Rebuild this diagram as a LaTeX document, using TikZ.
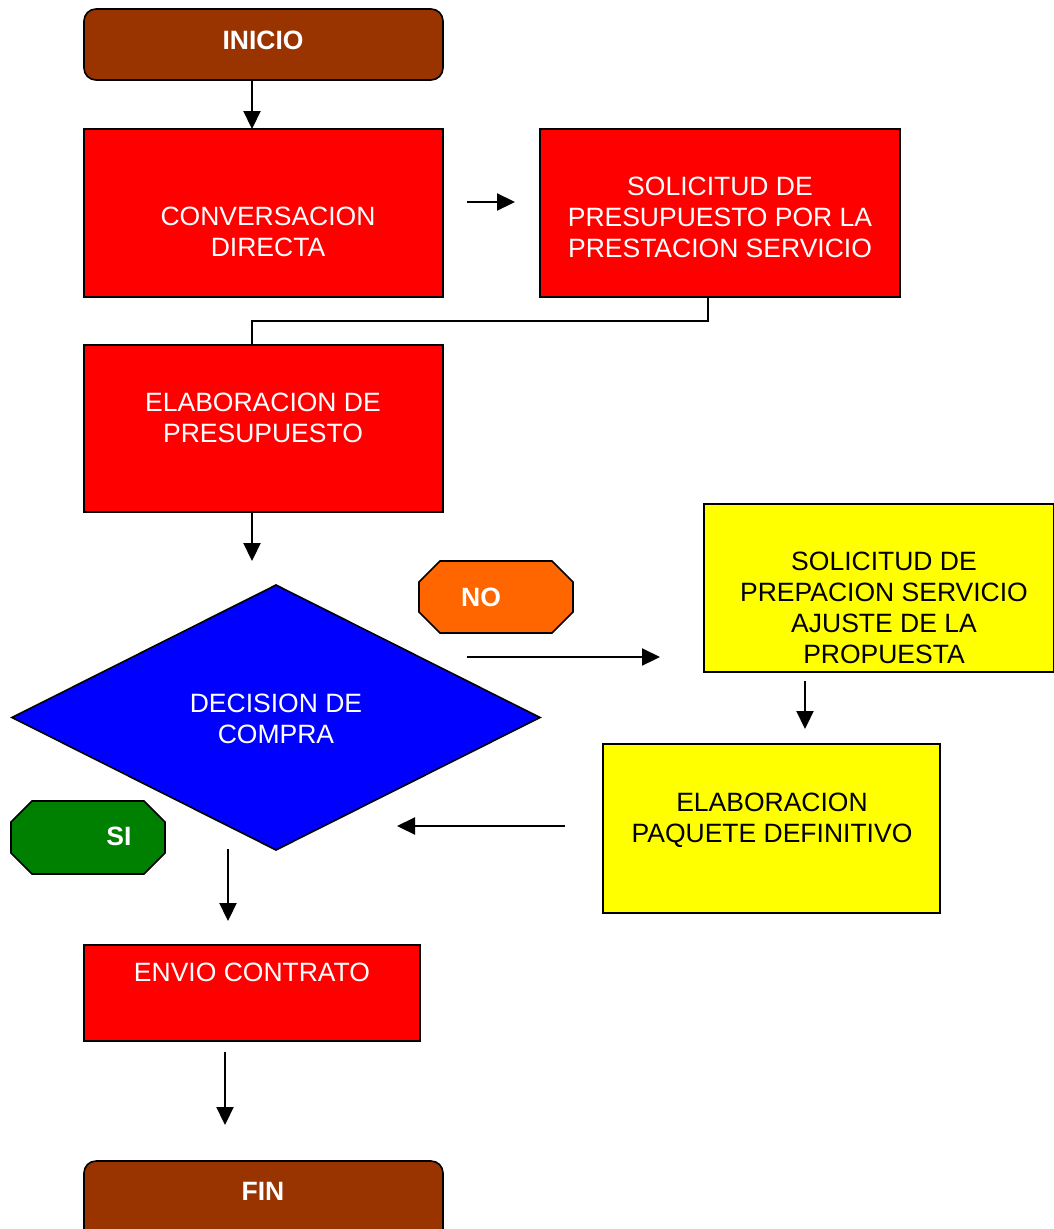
\documentclass[tikz,border=0pt]{standalone}
\usepackage{fontspec}
\setmainfont{Liberation Sans}
\usetikzlibrary{shapes.geometric,arrows.meta}
\definecolor{brownc}{HTML}{993300}
\definecolor{redc}{HTML}{FF0000}
\definecolor{bluec}{HTML}{0000FF}
\definecolor{yellowc}{HTML}{FFFF00}
\definecolor{orangec}{HTML}{FF6600}
\definecolor{greenc}{HTML}{008000}
\begin{document}
\begin{tikzpicture}[x=1pt,y=-1pt,
  shp/.style={draw=black, line width=1.6pt, inner sep=0pt, outer sep=0pt, anchor=north west},
  redbox/.style={shp, rectangle, fill=redc},
  yelbox/.style={shp, rectangle, fill=yellowc},
  term/.style={shp, rectangle, rounded corners=12pt, fill=brownc},
  octo/.style={draw=black, line width=1.6pt, line join=miter},
  txt/.style={align=center, inner sep=0pt, font=\fontsize{26.5}{31}\selectfont},
  wtxt/.style={txt, text=white},
  btxt/.style={txt, text=black},
  bold/.style={txt, text=white, font=\fontsize{26.5}{31}\selectfont\bfseries},
  arr/.style={line width=2.2pt, -{Triangle[length=18pt,width=17pt]}},
  conn/.style={line width=1.3pt}
]
\useasboundingbox (0,0) rectangle (1053,1229);
\fill[white] (0,0) rectangle (1053,1229);

% shapes
\node[term, minimum width=359pt, minimum height=71pt] (ini) at (84,9) {};
\node[bold] (iniT) at (263,40) {INICIO};

\node[redbox, minimum width=359pt, minimum height=168pt] (conv) at (84,129) {};
\node[wtxt] (convT) at (268,232) {CONVERSACION\\DIRECTA};

\node[redbox, minimum width=360pt, minimum height=168pt] (sol) at (540,129) {};
\node[wtxt] (solT) at (720,217) {SOLICITUD DE\\PRESUPUESTO POR LA\\PRESTACION SERVICIO};

\node[redbox, minimum width=359pt, minimum height=167pt] (elab) at (84,345) {};
\node[wtxt] (elabT) at (263,418) {ELABORACION DE\\PRESUPUESTO};

\node[shp, diamond, fill=bluec, minimum width=528pt, minimum height=265pt, anchor=center] (dec) at (276,717.5) {};
\node[wtxt] (decT) at (276,719) {DECISION DE\\COMPRA};

% NO octagon
\draw[octo, fill=orangec] (440,561) -- (552,561) -- (573,582) -- (573,612) -- (552,633) -- (440,633) -- (419,612) -- (419,582) -- cycle;
\node[bold] (noT) at (481,597) {NO};

\node[yelbox, minimum width=350pt, minimum height=168pt] (aj) at (704,504) {};
\node[btxt] (ajT) at (884,608) {SOLICITUD DE\\PREPACION SERVICIO\\AJUSTE DE LA\\PROPUESTA};

\node[yelbox, minimum width=337pt, minimum height=169pt] (paq) at (603,744) {};
\node[btxt] (paqT) at (772,820) {ELABORACION\\PAQUETE DEFINITIVO};

% SI octagon
\draw[octo, fill=greenc] (32,801) -- (144,801) -- (165,822) -- (165,853) -- (144,874) -- (32,874) -- (11,853) -- (11,822) -- cycle;
\node[bold] (siT) at (119,836) {SI};

\node[redbox, minimum width=336pt, minimum height=96pt] (env) at (84,945) {};
\node[wtxt] (envT) at (252,972) {ENVIO CONTRATO};

\node[term, minimum width=359pt, minimum height=90pt] (fin) at (84,1161) {};
\node[bold] (finT) at (263,1191) {FIN};

% connector coordinates
\coordinate (x252) at (252,0);
\coordinate (a1s) at (467,202); \coordinate (a1e) at (515,202);
\coordinate (k1) at (708,0);
\coordinate (a3s) at (252,513); \coordinate (a3e) at (252,561);
\coordinate (a4s) at (467,657); \coordinate (a4e) at (660,657);
\coordinate (a5s) at (805,681); \coordinate (a5e) at (805,729);
\coordinate (a6s) at (565,826); \coordinate (a6e) at (397,826);
\coordinate (a7s) at (228,849); \coordinate (a7e) at (228,921);
\coordinate (a8s) at (225,1052); \coordinate (a8e) at (225,1125);

% connectors
\draw[arr] (ini.south -| x252) -- (conv.north -| x252);
\draw[arr] (a1s) -- (a1e);
\draw[conn] (sol.south -| k1) -- ++(0,24) -| (elab.north -| x252);
\draw[arr] (a3s) -- (a3e);
\draw[arr] (a4s) -- (a4e);
\draw[arr] (a5s) -- (a5e);
\draw[arr] (a6s) -- (a6e);
\draw[arr] (a7s) -- (a7e);
\draw[arr] (a8s) -- (a8e);
\end{tikzpicture}
\end{document}
